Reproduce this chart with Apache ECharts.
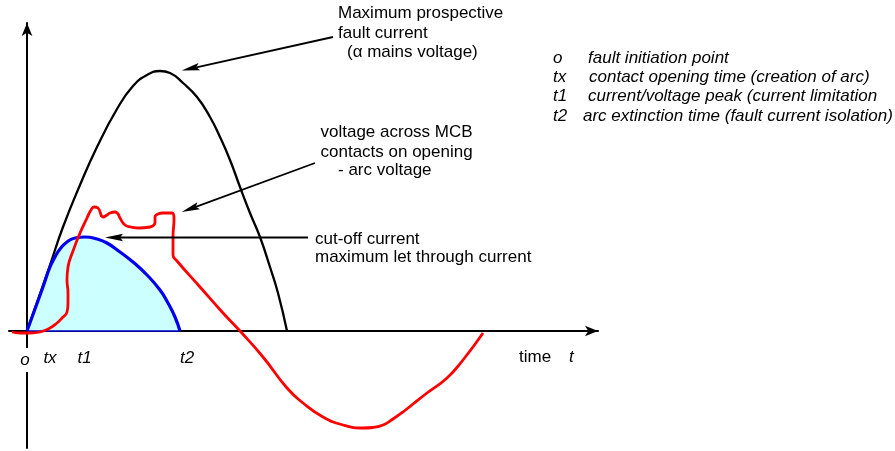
<!DOCTYPE html>
<html><head><meta charset="utf-8">
<script src="https://cdn.jsdelivr.net/npm/echarts@6/dist/echarts.min.js"></script>
<style>html,body{margin:0;padding:0;background:#fff}#c{width:895px;height:451px}</style>
</head><body><div id="c"></div>
<script>
// time (x) and amplitude (y) values
const prospectiveCurrent = [[0,0],[12,34],[23,66],[36,104],[53,146],[70,184],[90,222],[106,245],[120,256],[133,260],[143,258],[156,248],[170,234],[183,214],[193,194],[203,171],[213,144],[223,118],[233,94],[243,64],[251,38],[260,0]];
const cutOffCurrent = [[0,0],[8,22],[16,44],[23,64],[28,74],[33,82],[40,89],[48,93],[58,94],[70,92],[80,88],[93,79],[106,69],[120,56],[133,41],[141,28],[148,14],[153,0]];
const arcVoltage = [[-15,-1],[-7,-2],[3,-2],[13,-1],[23,3],[30,8],[35,13],[40,19],[41,28],[41,38],[40,51],[41,64],[46,80],[53,98],[60,113],[64,121],[67,124],[71,123],[76,114],[80,116],[83,118],[88,119],[91,117],[93,113],[98,106],[104,104],[112,103],[123,104],[127,106],[128,109],[128,114],[131,117],[136,118],[145,118],[147,112],[146,94],[146,76],[150,70],[173,44],[196,18],[213,0],[236,-26],[260,-57],[276,-72],[296,-86],[316,-94],[336,-97],[346,-96.5],[356,-94],[366,-88],[376,-81],[386,-73],[400,-62],[420,-47],[436,-29],[456,-2]];
const tickLabels = ['o','tx','t1','t2'];
const tickTimes = [-2,23,57.5,160];
const legendKeys = ['o','tx','t1','t2'];
const legendTexts = ['fault initiation point','contact opening time (creation of arc)','current/voltage peak (current limitation','arc extinction time (fault current isolation)'];
// annotation arrows: [fromTime, fromValue, toTime, toValue]
const arrowLinks = [[306,294,154.7,260.5],[288,168,154.7,119],[281,93.5,78,93.5]];

const FONT = '"Liberation Sans", Arial, sans-serif';
const FS = 17;
function txt(text, x, y, italic) {
  return {type:'text', x:x, y:y, z:50, style:{text:text, fill:'#000', fontSize:FS, fontFamily:FONT, fontStyle: italic?'italic':'normal', verticalAlign:'middle'}};
}
const graphics = [
  txt('Maximum prospective', 338, 13.3),
  txt('fault current', 338, 33.3),
  txt('(α mains voltage)', 347, 52.3),
  txt('voltage across MCB', 320.5, 132.3),
  txt('contacts on opening', 320.5, 152.3),
  txt('- arc voltage', 338, 170.7),
  txt('cut-off current', 315, 239),
  txt('maximum let through current', 315, 257.3),
  txt('time', 519, 357.5),
  txt('t', 569, 357.5, true)
];
const legendX = [588, 589, 588, 583];
const legendY = [58, 77.3, 96.7, 116.7];
legendKeys.forEach((k,i)=>{
  graphics.push(txt(k, 553, legendY[i], true));
  graphics.push(txt(legendTexts[i], legendX[i], legendY[i], true));
});

const chart = echarts.init(document.getElementById('c'), null, {renderer:'canvas'});
chart.setOption({
  animation:false,
  backgroundColor:'#fff',
  grid:{left:9, top:23, width:589, height:425},
  xAxis:{type:'value', min:-18, max:571,
    axisLine:{show:true, onZero:true, symbol:['none','arrow'], symbolSize:[8,13], lineStyle:{color:'#000', width:2}},
    axisTick:{show:false}, axisLabel:{show:false}, splitLine:{show:false}},
  yAxis:{type:'value', min:-117, max:308,
    axisLine:{show:true, onZero:true, symbol:['none','arrow'], symbolSize:[8,13], lineStyle:{color:'#000', width:2}},
    axisTick:{show:false}, axisLabel:{show:false}, splitLine:{show:false}},
  graphic: graphics,
  series:[
    {type:'line', name:'prospective', data:prospectiveCurrent, smooth:0.5, showSymbol:false, symbol:'none', z:3,
      lineStyle:{color:'#000', width:2.3}},
    {type:'line', name:'cutoff', data:cutOffCurrent, smooth:0.5, showSymbol:false, symbol:'none', z:4,
      lineStyle:{color:'#0000ee', width:3.2}, areaStyle:{color:'#ccffff', opacity:1}},
    {type:'line', name:'cutoffBase', data:[[cutOffCurrent[0][0],0],[cutOffCurrent[cutOffCurrent.length-1][0],0]], showSymbol:false, symbol:'none', z:4,
      lineStyle:{color:'#0000cc', width:1.5}},
    {type:'line', name:'arc', data:arcVoltage, smooth:0.5, showSymbol:false, symbol:'none', z:5,
      lineStyle:{color:'#ff0000', width:2.8}},
    {type:'custom', name:'arrows', data:arrowLinks, encode:{x:[0,2], y:[1,3]}, z:6,
      renderItem:function(params, api){
        const p1 = api.coord([api.value(0), api.value(1)]);
        const p2 = api.coord([api.value(2), api.value(3)]);
        const dx = p2[0]-p1[0], dy = p2[1]-p1[1];
        const len = Math.sqrt(dx*dx+dy*dy);
        const ux = dx/len, uy = dy/len;
        const L = 18, W = 3.8;
        const bx = p2[0]-ux*L, by = p2[1]-uy*L;
        return {type:'group', children:[
          {type:'line', shape:{x1:p1[0], y1:p1[1], x2:bx+ux*3, y2:by+uy*3}, style:{stroke:'#000', lineWidth:1.8}},
          {type:'polygon', shape:{points:[[p2[0],p2[1]],[bx-uy*W, by+ux*W],[bx+ux*3, by+uy*3],[bx+uy*W, by-ux*W]]}, style:{fill:'#000'}}
        ]};
      }},
    {type:'scatter', name:'ticks', symbolSize:0, itemStyle:{color:'#000'}, z:10,
      data: tickTimes.map((t,i)=>({value:[t,0,tickLabels[i]], label: i===0 ? {backgroundColor:'#fff', padding:[3,1,4,1], offset:[0,29]} : {}})),
      label:{show:true, position:'inside', offset:[0,27], formatter:p=>p.data.value[2], color:'#000', textBorderWidth:0, textBorderColor:'transparent', textShadowBlur:0, opacity:1, fontSize:FS, fontFamily:FONT, fontStyle:'italic'}}
  ]
});
</script></body></html>
